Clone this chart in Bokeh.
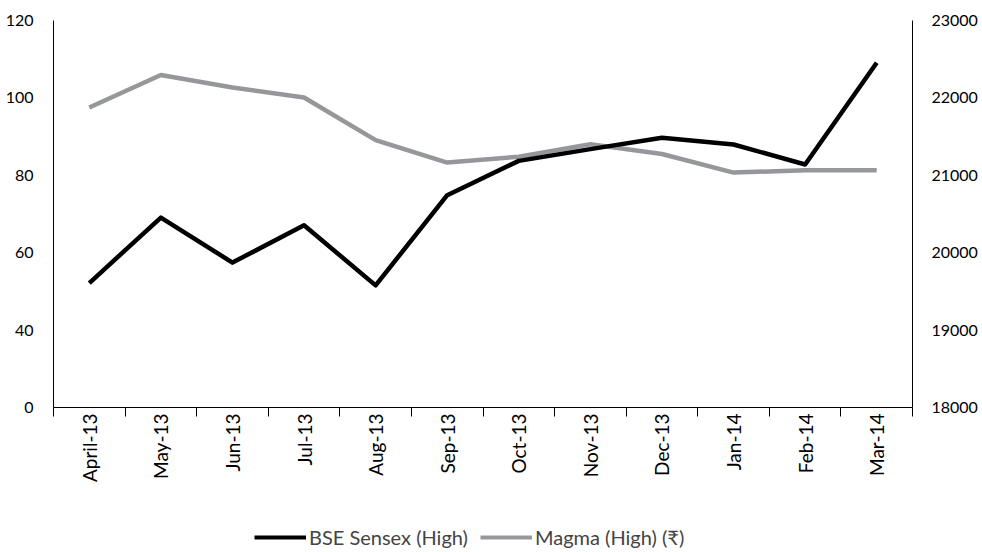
import math
from bokeh.plotting import figure
from bokeh.layouts import column
from bokeh.models import Range1d, LinearAxis, FixedTicker, Legend, LegendItem
from bokeh.embed import file_html
from bokeh.resources import INLINE

months = ["April-13", "May-13", "Jun-13", "Jul-13", "Aug-13", "Sep-13",
          "Oct-13", "Nov-13", "Dec-13", "Jan-14", "Feb-14", "Mar-14"]
sensex_high = [19608, 20454, 19872, 20354, 19578, 20743, 21186, 21338, 21484, 21398, 21140, 22454]
magma_high = [97.5, 105.9, 102.7, 100.1, 89.1, 83.3, 84.8, 88.0, 85.5, 80.7, 81.3, 81.3]
left_ticks = [20, 40, 60, 80, 100, 120]
left_tick_labels = ["0", "40", "60", "80", "100", "120"]
right_ticks = [18000, 19000, 20000, 21000, 22000, 23000]
series_names = ["BSE Sensex (High)", "Magma (High) (₹)"]

FONT = "Lato"
BLACK = "black"
GREY = "#96979b"
x = [i + 0.5 for i in range(len(months))]

p = figure(width=980, height=510,
           x_range=Range1d(0, len(months)), y_range=Range1d(20, 120),
           output_backend="svg", toolbar_location=None,
           min_border_left=53, min_border_top=20, min_border_right=68, min_border_bottom=103)
p.extra_y_ranges = {"right": Range1d(18000, 23000)}
p.outline_line_color = None
p.xgrid.visible = False
p.ygrid.visible = False

# x axis
xa = p.xaxis[0]
xa.ticker = FixedTicker(ticks=x, minor_ticks=list(range(len(months) + 1)))
xa.major_label_overrides = {xi: m for xi, m in zip(x, months)}
xa.major_tick_line_color = None
xa.major_tick_out = 0
xa.major_tick_in = 0
xa.minor_tick_out = 9
xa.minor_tick_in = 0
xa.minor_tick_line_color = BLACK
xa.axis_line_color = BLACK
xa.major_label_orientation = math.pi / 2
xa.major_label_text_font = FONT
xa.major_label_text_font_size = "19px"
xa.major_label_text_color = BLACK
xa.major_label_standoff = -3

# left axis
ya = p.yaxis[0]
ya.ticker = FixedTicker(ticks=left_ticks)
ya.major_label_overrides = {t: l for t, l in zip(left_ticks, left_tick_labels)}
ya.major_tick_line_color = None
ya.minor_tick_line_color = None
ya.axis_line_color = BLACK
ya.major_label_text_font = FONT
ya.major_label_text_font_size = "16px"
ya.major_label_text_color = BLACK
ya.major_label_standoff = 14

# right axis
ra = LinearAxis(y_range_name="right", ticker=FixedTicker(ticks=right_ticks))
ra.major_tick_line_color = None
ra.minor_tick_line_color = None
ra.axis_line_color = BLACK
ra.major_label_text_font = FONT
ra.major_label_text_font_size = "16px"
ra.major_label_text_color = BLACK
ra.major_label_standoff = 13
p.add_layout(ra, "right")

p.line(x, magma_high, line_color=GREY, line_width=4.5, line_join="round")
p.line(x, sensex_high, y_range_name="right", line_color=BLACK, line_width=4.5, line_join="round")

# legend strip below the chart (legend-only renderers carry no visible data)
nan = float("nan")
lf = figure(width=980, height=42, x_range=Range1d(0, 1), y_range=Range1d(0, 1),
            x_axis_type=None, y_axis_type=None, output_backend="svg", toolbar_location=None,
            min_border=0)
lf.outline_line_color = None
lf.grid.visible = False
l1 = lf.line([nan], [nan], line_color=BLACK, line_width=4)
l2 = lf.line([nan], [nan], line_color=GREY, line_width=4)
legend = Legend(items=[LegendItem(label=series_names[0], renderers=[l1]),
                       LegendItem(label=series_names[1], renderers=[l2])],
                orientation="horizontal", location=(201, 3),
                margin=0, padding=2, spacing=12, label_standoff=3,
                glyph_width=52, glyph_height=22,
                label_text_font=FONT, label_text_font_size="20px",
                border_line_color=None, background_fill_alpha=0)
lf.add_layout(legend, "center")

open("out.html", "w").write(file_html(column(p, lf, spacing=0), INLINE))
